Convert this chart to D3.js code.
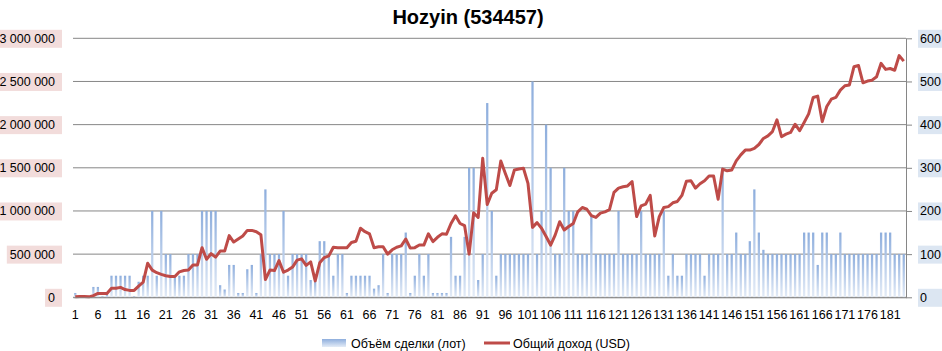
<!DOCTYPE html>
<html>
<head>
<meta charset="utf-8">
<script src="https://cdn.jsdelivr.net/npm/d3@7"></script>
<style>
  body { margin: 0; background: #fff; }
  svg { display: block; font-family: "Liberation Sans", Arial, sans-serif; }
</style>
</head>
<body>
<script>
// chart data
const title = "Hozyin (534457)";
const categories = d3.range(1, 185);
const volumeLots = [
  50000, 0, 0, 0, 120000, 120000, 10000, 30000, 250000, 250000,
  250000, 250000, 250000, 10000, 180000, 250000, 250000, 1000000, 250000, 1000000,
  500000, 500000, 250000, 250000, 250000, 500000, 500000, 500000, 1000000, 1000000,
  1000000, 1000000, 140000, 90000, 375000, 375000, 50000, 50000, 325000, 375000,
  50000, 500000, 1250000, 500000, 500000, 500000, 1000000, 250000, 500000, 500000,
  500000, 500000, 200000, 200000, 650000, 650000, 500000, 250000, 500000, 500000,
  50000, 250000, 250000, 250000, 250000, 250000, 100000, 140000, 500000, 50000,
  500000, 500000, 500000, 750000, 50000, 250000, 500000, 250000, 500000, 50000,
  50000, 50000, 50000, 700000, 250000, 250000, 700000, 1500000, 1500000, 200000,
  500000, 2250000, 1000000, 250000, 500000, 500000, 500000, 500000, 500000, 500000,
  500000, 2500000, 500000, 1000000, 2000000, 1500000, 500000, 500000, 1500000, 1000000,
  1000000, 500000, 500000, 500000, 950000, 500000, 500000, 500000, 500000, 500000,
  1000000, 500000, 500000, 500000, 500000, 1000000, 500000, 500000, 500000, 500000,
  1000000, 250000, 500000, 250000, 250000, 500000, 500000, 500000, 500000, 250000,
  500000, 500000, 500000, 1500000, 500000, 500000, 750000, 500000, 500000, 650000,
  1250000, 750000, 550000, 500000, 500000, 500000, 500000, 500000, 500000, 500000,
  500000, 750000, 750000, 750000, 375000, 750000, 750000, 500000, 500000, 750000,
  500000, 500000, 500000, 500000, 500000, 500000, 500000, 500000, 750000, 750000,
  750000, 500000, 500000, 500000
];
const incomeUsd = [
  1, 2, 2, 1, 4, 9, 9, 9, 21, 21,
  23, 18, 16, 16, 26, 35, 79, 63, 57, 53,
  50, 48, 48, 59, 62, 63, 75, 75, 115, 88,
  101, 93, 107, 107, 143, 128, 135, 142, 155, 155,
  152, 145, 41, 63, 62, 85, 58, 63, 70, 86,
  89, 74, 82, 38, 80, 92, 96, 116, 115, 115,
  115, 127, 130, 160, 152, 147, 115, 117, 117, 100,
  110, 116, 119, 135, 114, 115, 121, 121, 147, 129,
  139, 147, 146, 171, 189, 171, 166, 100, 196, 185,
  322, 215, 241, 249, 316, 287, 259, 295, 297, 299,
  264, 162, 173, 160, 141, 121, 144, 175, 156, 164,
  171, 198, 208, 204, 189, 185, 195, 198, 203, 243,
  253, 256, 258, 268, 187, 212, 216, 236, 142, 187,
  208, 210, 219, 222, 236, 269, 270, 253, 263, 270,
  281, 281, 227, 297, 293, 295, 316, 330, 341, 341,
  345, 354, 368, 374, 384, 411, 372, 378, 382, 401,
  386, 405, 425, 463, 466, 407, 442, 459, 463, 480,
  490, 492, 534, 537, 497, 501, 503, 511, 542, 528,
  530, 526, 560, 547
];
const leftTicks = [0, 500000, 1000000, 1500000, 2000000, 2500000, 3000000];
const rightTicks = [0, 100, 200, 300, 400, 500, 600];
const xTickLabels = categories.filter(c => (c - 1) % 5 === 0);
const legendNames = ["Объём сделки (лот)", "Общий доход (USD)"];

const W = 942, H = 351;
const plotL = 73, plotR = 906, plotT = 38.3, plotB = 297.3;

const svg = d3.select("body").append("svg")
  .attr("width", W).attr("height", H);

// per-bar gradient, dark blue at top fading to almost white
const grad = svg.append("defs").append("linearGradient")
  .attr("id", "barGrad")
  .attr("x1", 0).attr("y1", 0).attr("x2", 0).attr("y2", 1);
grad.append("stop").attr("offset", "0%").attr("stop-color", "#8eaedd");
grad.append("stop").attr("offset", "100%").attr("stop-color", "#e4ecf7");

const x = d3.scaleBand().domain(categories).range([plotL, plotR])
  .paddingInner(0.5).paddingOuter(0.25);
const yL = d3.scaleLinear().domain([0, 3000000]).range([plotB, plotT]);
const yR = d3.scaleLinear().domain([0, 600]).range([plotB, plotT]);

const fmt = d3.formatLocale({ decimal: ",", thousands: " ", grouping: [3], currency: ["", ""] }).format(",d");

// title
svg.append("text")
  .attr("x", 468).attr("y", 24)
  .attr("text-anchor", "middle")
  .style("font-size", "20px").style("font-weight", "bold")
  .text(title);

// gridlines
svg.append("g").selectAll("line").data(leftTicks).join("line")
  .attr("x1", plotL).attr("x2", plotR)
  .attr("y1", d => yL(d)).attr("y2", d => yL(d))
  .attr("stroke", "#868686").attr("stroke-width", 1);

// bars
svg.append("g").selectAll("rect").data(categories).join("rect")
  .attr("x", d => x(d))
  .attr("width", x.bandwidth())
  .attr("y", (d, i) => yL(volumeLots[i]))
  .attr("height", (d, i) => plotB - yL(volumeLots[i]))
  .attr("fill", "url(#barGrad)");

// income line
const line = d3.line()
  .x((d, i) => x(categories[i]) + x.bandwidth() / 2)
  .y(d => yR(d));
svg.append("path").datum(incomeUsd)
  .attr("d", line)
  .attr("fill", "none")
  .attr("stroke", "#be4b48")
  .attr("stroke-width", 3)
  .attr("stroke-linejoin", "round");

// left axis with pink label boxes
const gL = svg.append("g")
  .attr("transform", `translate(${plotL},0)`)
  .call(d3.axisLeft(yL).tickValues(leftTicks).tickSize(0).tickPadding(18).tickFormat(fmt));
gL.select(".domain").remove();
gL.selectAll("text").style("font-size", "12.5px").attr("fill", "#000");
gL.selectAll(".tick").each(function () {
  const t = d3.select(this).select("text");
  const b = t.node().getBBox();
  d3.select(this).insert("rect", "text")
    .attr("x", b.x - 3).attr("y", -9)
    .attr("width", -11 - (b.x - 3)).attr("height", 18)
    .attr("fill", "#f2dcdb");
});

// right axis with light blue label boxes
const gR = svg.append("g")
  .attr("transform", `translate(${plotR},0)`)
  .call(d3.axisRight(yR).tickValues(rightTicks).tickSize(6).tickSizeOuter(0).tickPadding(8));
gR.select(".domain").attr("stroke", "#868686");
gR.selectAll(".tick line").attr("stroke", "#868686");
gR.selectAll("text").style("font-size", "12.5px").attr("fill", "#000");
gR.selectAll(".tick").each(function () {
  const t = d3.select(this).select("text");
  const b = t.node().getBBox();
  d3.select(this).insert("rect", "text")
    .attr("x", b.x - 2).attr("y", -9)
    .attr("width", W - plotR - (b.x - 2)).attr("height", 18)
    .attr("fill", "#dce6f2");
});

// category axis
const gX = svg.append("g")
  .attr("transform", `translate(0,${plotB})`)
  .call(d3.axisBottom(x).tickValues(xTickLabels).tickSize(0).tickPadding(13));
gX.select(".domain").attr("stroke", "#868686");
gX.selectAll("text").style("font-size", "12.5px").attr("fill", "#000");

// legend
const lg = svg.append("g");
lg.append("rect")
  .attr("x", 322).attr("y", 339).attr("width", 24).attr("height", 8)
  .attr("fill", "url(#barGrad)");
lg.append("text").attr("x", 351).attr("y", 347.5)
  .style("font-size", "12.5px").text(legendNames[0]);
lg.append("line")
  .attr("x1", 484).attr("x2", 510).attr("y1", 343).attr("y2", 343)
  .attr("stroke", "#be4b48").attr("stroke-width", 3);
lg.append("text").attr("x", 513).attr("y", 347.5)
  .style("font-size", "12.5px").text(legendNames[1]);
</script>
</body>
</html>
